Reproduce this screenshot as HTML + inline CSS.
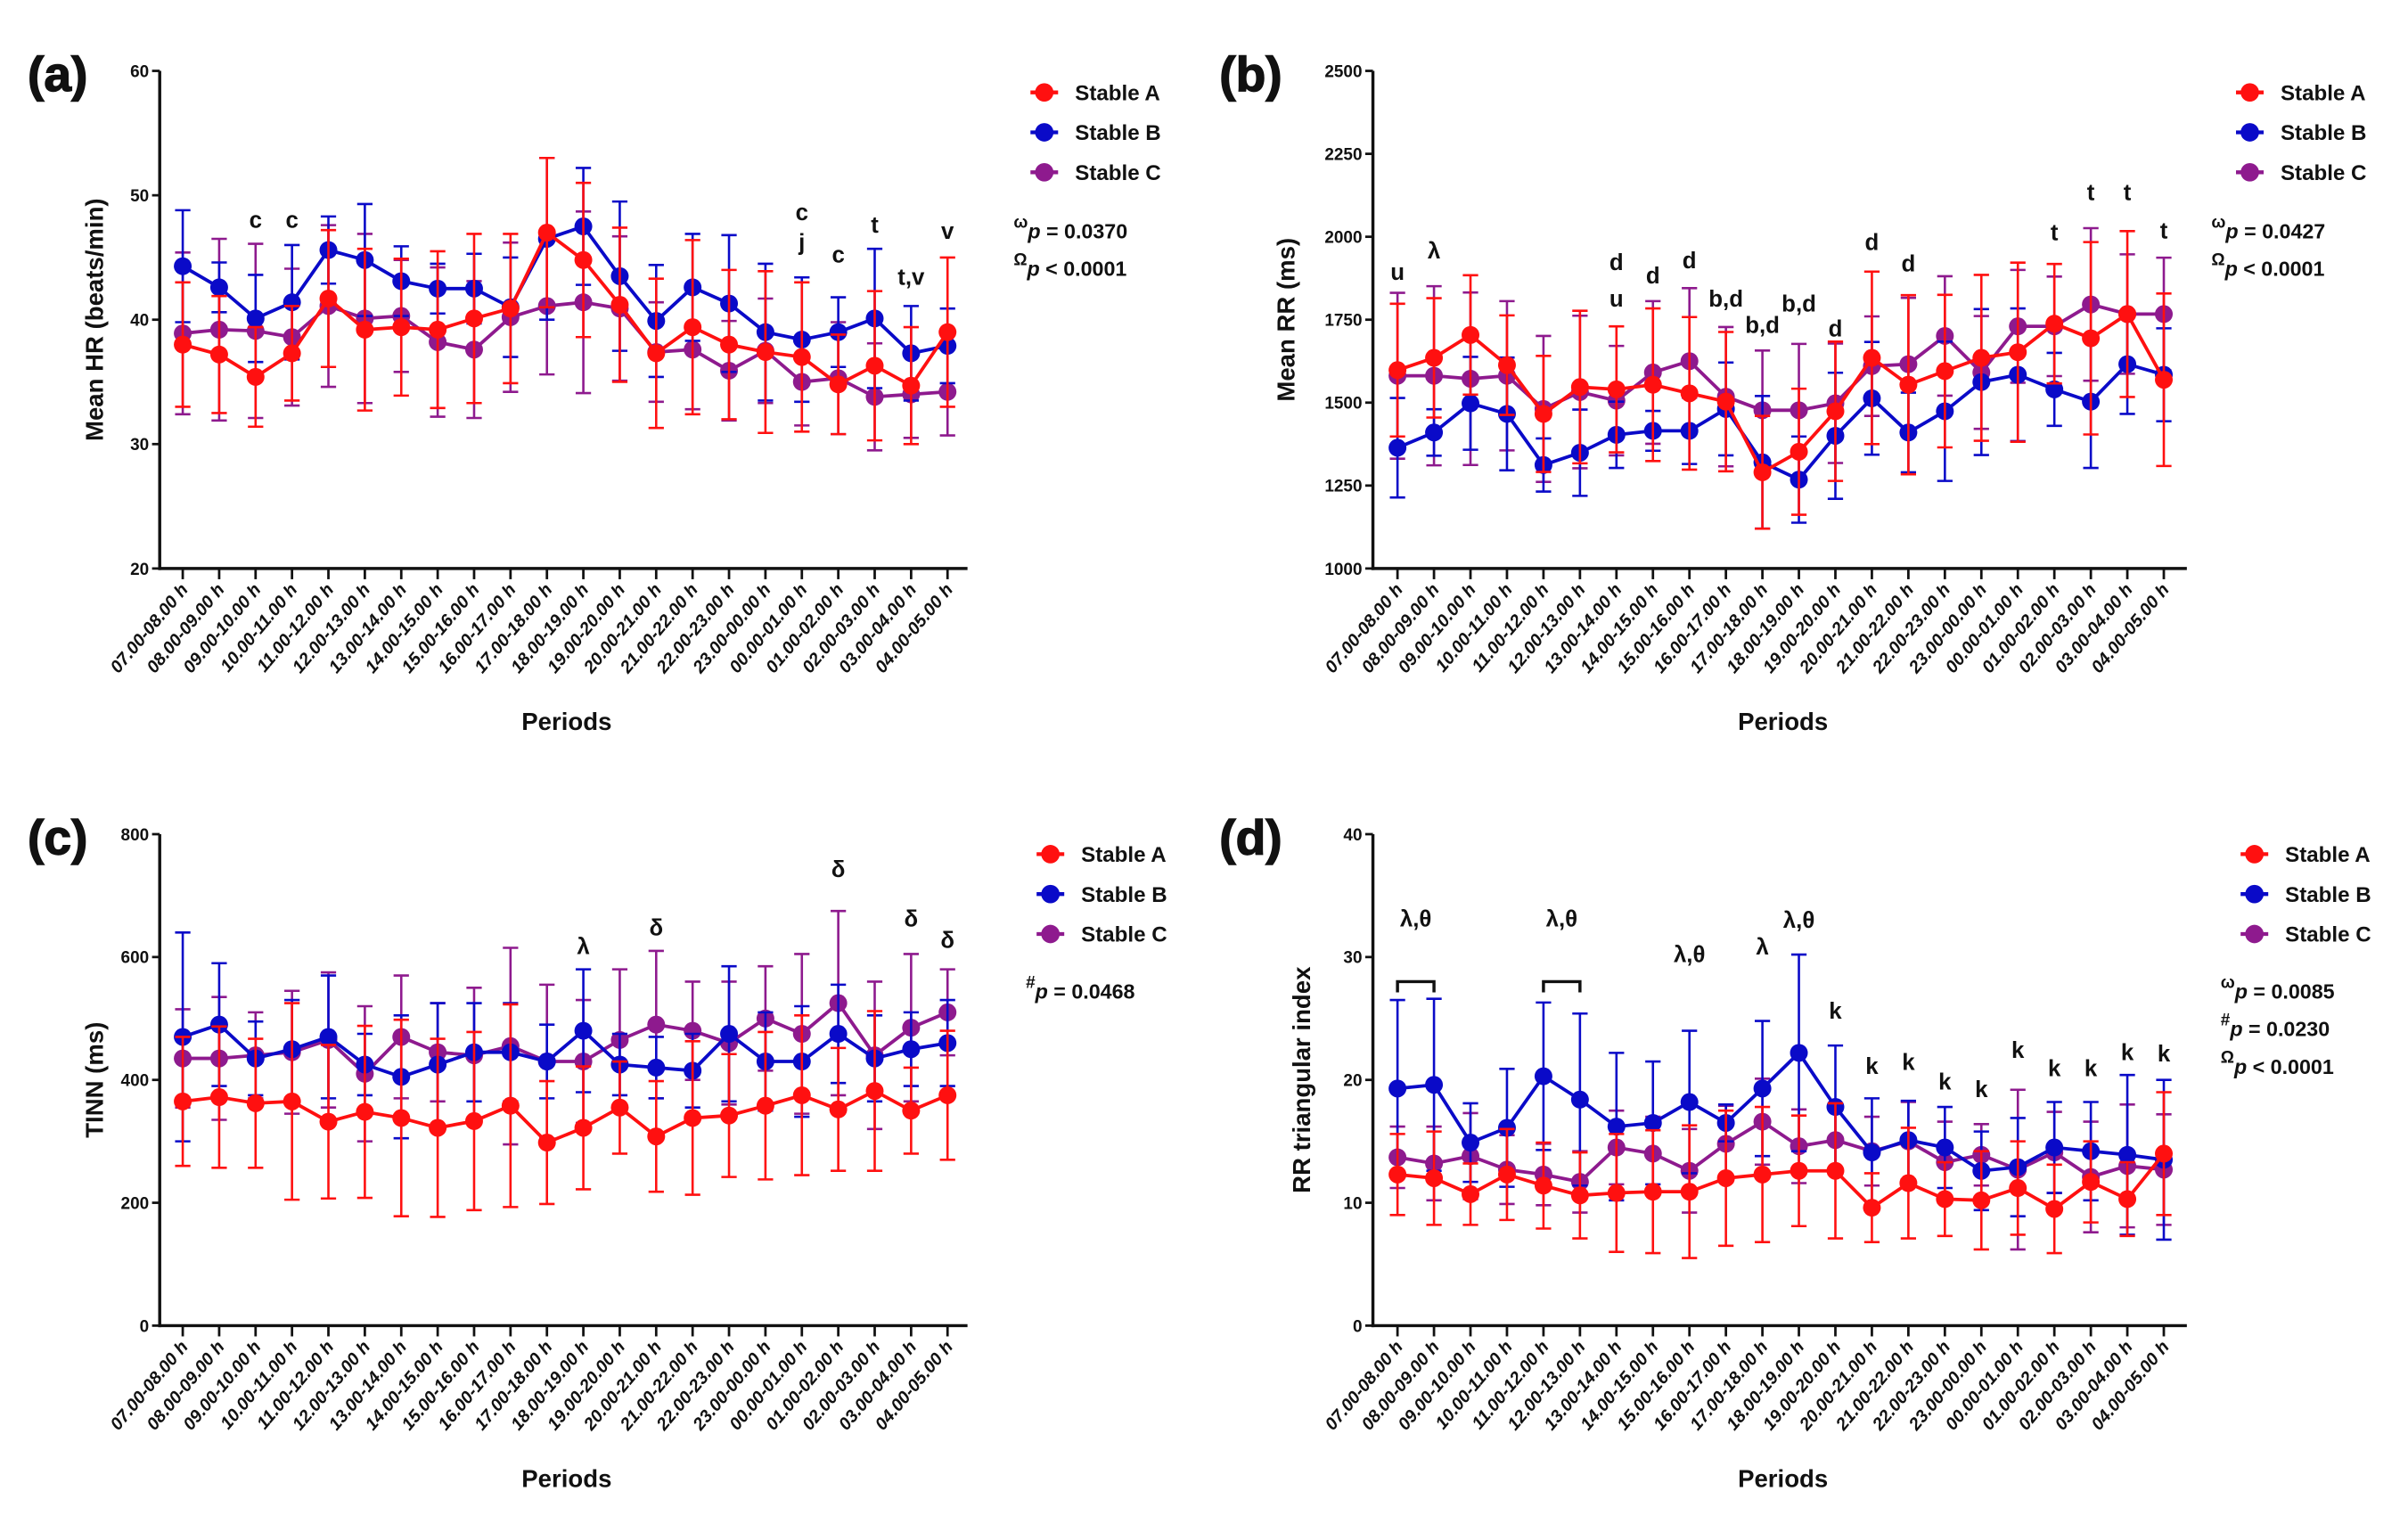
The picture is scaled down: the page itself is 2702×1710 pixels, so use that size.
<!DOCTYPE html>
<html><head><meta charset="utf-8"><style>
html,body{margin:0;padding:0;background:#fff}
svg{display:block}
text{font-family:"Liberation Sans",sans-serif;font-weight:bold;fill:#111}
</style></head><body>
<svg id="fig" width="2702" height="1710" viewBox="0 0 1568 992" xmlns="http://www.w3.org/2000/svg"></svg>
<script>
const periods = ["07.00-08.00 h","08.00-09.00 h","09.00-10.00 h","10.00-11.00 h","11.00-12.00 h","12.00-13.00 h","13.00-14.00 h","14.00-15.00 h","15.00-16.00 h","16.00-17.00 h","17.00-18.00 h","18.00-19.00 h","19.00-20.00 h","20.00-21.00 h","21.00-22.00 h","22.00-23.00 h","23.00-00.00 h","00.00-01.00 h","01.00-02.00 h","02.00-03.00 h","03.00-04.00 h","04.00-05.00 h"];
// (a) Mean HR
const hrA = [38.0,37.2,35.4,37.3,41.7,39.2,39.4,39.2,40.1,40.9,47.0,44.8,41.2,37.3,39.4,38.0,37.4,37.0,34.8,36.3,34.7,39.0];
const hrAsd = [5,4.7,4,3.8,5.5,6.5,5.5,6.3,6.8,6,6,6.2,6.2,6,7,6,6.5,6,4,6,4.7,6];
const hrB = [44.3,42.6,40.1,41.4,45.6,44.8,43.1,42.5,42.5,41.0,46.5,47.5,43.5,39.9,42.6,41.3,39.0,38.4,39.0,40.1,37.3,37.9];
const hrBsd = [4.5,2,3.5,4.6,2.7,4.5,2.8,2,2.8,4,6.5,4.7,6,4.5,4.3,5.5,5.5,5,2.8,5.6,3.8,3];
const hrC = [38.9,39.2,39.1,38.6,41.1,40.1,40.3,38.2,37.6,40.2,41.1,41.4,40.9,37.4,37.6,35.9,37.5,35.0,35.3,33.8,34.0,34.2];
const hrCsd = [6.5,7.3,7,5.5,6.5,6.8,4.5,6,5.5,6,5.5,7.3,5.8,4,4.8,4,4.2,3.5,4.5,4.3,3.5,3.5];
const hrTicks = [20,30,40,50,60];
// (b) Mean RR
const rrA = [1598,1635,1704,1613,1466,1547,1540,1554,1528,1503,1290,1352,1474,1635,1554,1595,1635,1652,1738,1694,1767,1569];
const rrAsd = [200,180,180,150,175,230,190,230,230,210,170,190,210,260,270,230,250,270,180,290,250,260];
const rrB = [1364,1410,1498,1466,1312,1349,1403,1415,1415,1481,1320,1268,1400,1513,1410,1474,1562,1584,1540,1503,1616,1584];
const rrBsd = [150,70,140,170,80,130,100,60,100,140,200,130,190,170,120,210,220,200,110,200,150,140];
const rrC = [1581,1581,1572,1581,1481,1532,1506,1591,1625,1518,1477,1477,1498,1610,1616,1701,1591,1730,1730,1796,1767,1767];
const rrCsd = [250,270,260,225,220,230,165,215,220,210,180,200,180,150,200,180,170,170,150,230,180,170];
const rrTicks = [1000,1250,1500,1750,2000,2250,2500];
// (c) TINN
const tnA = [365,372,362,365,332,348,338,322,333,358,298,322,355,308,338,342,358,375,352,382,350,375];
const tnAsd = [105,115,105,160,125,140,160,145,145,165,100,100,75,90,125,100,120,130,100,130,70,105];
const tnB = [470,490,435,450,470,425,405,425,445,445,430,480,425,420,415,475,430,430,475,435,450,460];
const tnBsd = [170,100,60,80,100,50,100,100,80,80,60,100,50,50,60,110,80,90,80,70,60,70];
const tnC = [435,435,440,445,465,410,470,445,440,455,430,430,465,490,480,460,500,475,525,440,485,510];
const tnCsd = [80,100,70,100,110,110,100,80,110,160,125,100,115,120,80,100,85,130,150,120,120,70];
const tnTicks = [0,200,400,600,800];
// (d) RR triangular index
const tiA = [12.3,12.0,10.7,12.3,11.4,10.6,10.8,10.9,10.9,12.0,12.3,12.6,12.6,9.6,11.6,10.3,10.2,11.2,9.5,11.7,10.3,14.0];
const tiAsd = [3.3,3.8,2.5,3.7,3.5,3.5,4.8,5,5.4,5.5,5.5,4.5,5.5,2.8,4.5,3,4,3.8,3.6,3.3,3,5];
const tiB = [19.3,19.6,14.9,16.1,20.3,18.4,16.2,16.5,18.2,16.5,19.3,22.2,17.8,14.1,15.1,14.5,12.6,12.9,14.5,14.2,13.9,13.5];
const tiBsd = [7.2,7,3.2,4.8,6,7,6,5,5.8,1.5,5.5,8,5,4.4,3.2,3.3,3.2,4,3.7,4,6.5,6.5];
const tiC = [13.7,13.2,13.8,12.7,12.3,11.7,14.5,14.0,12.6,14.8,16.6,14.6,15.1,14.2,15.0,13.3,13.9,12.7,14.1,12.1,13.0,12.7];
const tiCsd = [2.5,3,3.5,2.8,2.5,2.5,3,3,3.4,3.1,3.5,3,2.8,2.8,3.2,3.3,2.5,6.5,3.3,4.5,5,4.5];
const tiTicks = [0,10,20,30,40];
// annotations: [category index, value, label]
const annA = [[2,47.4,"c"],[3,47.4,"c"],[17,48,"c"],[17,45.6,"j"],[18,44.6,"c"],[19,47,"t"],[20,42.8,"t,v"],[21,46.5,"v"]];
const annB = [[0,1870,"u"],[1,1935,"λ"],[6,1900,"d"],[6,1790,"u"],[7,1860,"d"],[8,1905,"d"],[9,1790,"b,d"],[10,1710,"b,d"],[11,1775,"b,d"],[12,1700,"d"],[13,1960,"d"],[14,1895,"d"],[18,1990,"t"],[19,2110,"t"],[20,2110,"t"],[21,1995,"t"]];
const annC = [[11,605,"λ"],[13,635,"δ"],[18,730,"δ"],[20,650,"δ"],[21,615,"δ"]];
const annD = [[0.5,32.5,"λ,θ"],[4.5,32.5,"λ,θ"],[8,29.6,"λ,θ"],[10,30.2,"λ"],[11,32.4,"λ,θ"],[12,25,"k"],[13,20.5,"k"],[14,20.8,"k"],[15,19.2,"k"],[16,18.6,"k"],[17,21.8,"k"],[18,20.3,"k"],[19,20.3,"k"],[20,21.6,"k"],[21,21.5,"k"]];
const bracketsD = [[0,1,28],[4,5,28]];

const NS="http://www.w3.org/2000/svg";
const svg=document.getElementById('fig');
const COL={A:"#ff1010",B:"#0a0ac8",C:"#8e1a8e"};
function mk(tag,attrs,parent){const e=document.createElementNS(NS,tag);for(const k in attrs)e.setAttribute(k,attrs[k]);(parent||svg).appendChild(e);return e;}

function panel(cfg){
  const g=mk('g',{});
  
  
  const n=periods.length;
  const xs=i=>cfg.x0+i*(cfg.x1-cfg.x0)/(n-1);
  const ys=v=>cfg.yb-(v-cfg.min)/(cfg.max-cfg.min)*(cfg.yb-cfg.yt);
  const ya=mk('line',{x1:cfg.ax,y1:cfg.yt,x2:cfg.ax,y2:cfg.yb+1,stroke:"#111","stroke-width":2},g);
  
  const xa=mk('line',{x1:cfg.ax-1,y1:cfg.yb,x2:cfg.axEnd,y2:cfg.yb,stroke:"#111","stroke-width":2},g);
  
  cfg.ticks.forEach(t=>{
    mk('line',{x1:cfg.ax-5,y1:ys(t),x2:cfg.ax,y2:ys(t),stroke:"#111","stroke-width":1.6},g);
    const tl=mk('text',{x:cfg.ax-7,y:ys(t)+4,"text-anchor":"end","font-size":11},g);
    
    tl.textContent=t;
  });
  periods.forEach((p,i)=>{
    mk('line',{x1:xs(i),y1:cfg.yb,x2:xs(i),y2:cfg.yb+7,stroke:"#111","stroke-width":1.6},g);
    const tl=mk('text',{transform:`translate(${xs(i)+4},${cfg.yb+14}) rotate(-50)`,"text-anchor":"end","font-size":11.5,"font-style":"italic"},g);
    
    tl.textContent=p;
  });
  const yt=mk('text',{transform:`translate(${cfg.ytx},${(cfg.yt+cfg.yb)/2}) rotate(-90)`,"text-anchor":"middle","font-size":16},g);
  
  yt.textContent=cfg.ytitle;
  const xt=mk('text',{x:(cfg.ax+cfg.axEnd)/2+2,y:cfg.yb+105,"text-anchor":"middle","font-size":16},g);
  
  xt.textContent="Periods";
  const pl=mk('text',{x:cfg.lx,y:cfg.yt+13,"font-size":32,"stroke":"#111","stroke-width":0.8},g);
  
  pl.textContent=cfg.label;
  [["C",cfg.C,cfg.Csd],["B",cfg.B,cfg.Bsd],["A",cfg.A,cfg.Asd]].forEach(([k,vals,sd])=>{
    const sg=mk('g',{},g);
    
    
    vals.forEach((v,i)=>{
      const x=xs(i);
      const eb=mk('path',{d:`M${x},${ys(v-sd[i])}V${ys(v+sd[i])}M${x-5},${ys(v-sd[i])}H${x+5}M${x-5},${ys(v+sd[i])}H${x+5}`,stroke:COL[k],"stroke-width":1.5,fill:"none"},sg);
      
    });
    const ln=mk('polyline',{points:vals.map((v,i)=>xs(i)+","+ys(v)).join(" "),stroke:COL[k],"stroke-width":2.2,fill:"none"},sg);
    
    vals.forEach((v,i)=>{
      const c=mk('circle',{cx:xs(i),cy:ys(v),r:5.8,fill:COL[k]},sg);
      
    });
  });
  cfg.ann.forEach(([i,v,s])=>{
    const t=mk('text',{x:xs(i),y:ys(v),"text-anchor":"middle","font-size":15},g);
    
    t.textContent=s;
  });
  (cfg.brackets||[]).forEach(([a,b,v])=>{
    const br=mk('path',{d:`M${xs(a)},${ys(v)+7}V${ys(v)}H${xs(b)}V${ys(v)+7}`,stroke:"#111","stroke-width":2,fill:"none"},g);
    
  });
  const lg=mk('g',{},g);
  
  ["A","B","C"].forEach((k,j)=>{
    const y=cfg.legY+j*26;
    mk('line',{x1:cfg.legX-9,y1:y,x2:cfg.legX+9,y2:y,stroke:COL[k],"stroke-width":2.5},lg);
    mk('circle',{cx:cfg.legX,cy:y,r:6,fill:COL[k]},lg);
    const t=mk('text',{x:cfg.legX+20,y:y+5,"font-size":14},lg);
    
    t.textContent="Stable "+k;
  });
  cfg.stats.forEach(([sym,txt],j)=>{
    const t=mk('text',{x:cfg.stX,y:cfg.stY+j*24.5,"font-size":13.5},g);
    
    const s1=mk('tspan',{dy:-7,"font-size":11},t);s1.textContent=sym;
    const s2=mk('tspan',{dy:7,"font-style":"italic"},t);s2.textContent="p";
    const s3=mk('tspan',{},t);s3.textContent=" "+txt;
  });
}
panel({name:'panel-a-mean-hr',label:'(a)',lx:18,ax:104,axEnd:630,yt:46,yb:370,min:20,max:60,ticks:hrTicks,x0:119,x1:617,ytx:67,ytitle:'Mean HR (beats/min)',
  A:hrA,Asd:hrAsd,B:hrB,Bsd:hrBsd,C:hrC,Csd:hrCsd,ann:annA,legX:680,legY:60,stX:660,stY:155,stats:[["ω","= 0.0370"],["Ω","< 0.0001"]]});
panel({name:'panel-b-mean-rr',label:'(b)',lx:794,ax:894,axEnd:1424,yt:46,yb:370,min:1000,max:2500,ticks:rrTicks,x0:910,x1:1409,ytx:843,ytitle:'Mean RR (ms)',
  A:rrA,Asd:rrAsd,B:rrB,Bsd:rrBsd,C:rrC,Csd:rrCsd,ann:annB,legX:1465,legY:60,stX:1440,stY:155,stats:[["ω","= 0.0427"],["Ω","< 0.0001"]]});
panel({name:'panel-c-tinn',label:'(c)',lx:18,ax:104,axEnd:630,yt:543,yb:863,min:0,max:800,ticks:tnTicks,x0:119,x1:617,ytx:67,ytitle:'TINN (ms)',
  A:tnA,Asd:tnAsd,B:tnB,Bsd:tnBsd,C:tnC,Csd:tnCsd,ann:annC,legX:684,legY:556,stX:668,stY:650,stats:[["#","= 0.0468"]]});
panel({name:'panel-d-rr-triangular-index',label:'(d)',lx:794,ax:894,axEnd:1424,yt:543,yb:863,min:0,max:40,ticks:tiTicks,x0:910,x1:1409,ytx:853,ytitle:'RR triangular index',
  A:tiA,Asd:tiAsd,B:tiB,Bsd:tiBsd,C:tiC,Csd:tiCsd,ann:annD,brackets:bracketsD,legX:1468,legY:556,stX:1446,stY:650,stats:[["ω","= 0.0085"],["#","= 0.0230"],["Ω","< 0.0001"]]});
</script>
</body></html>
